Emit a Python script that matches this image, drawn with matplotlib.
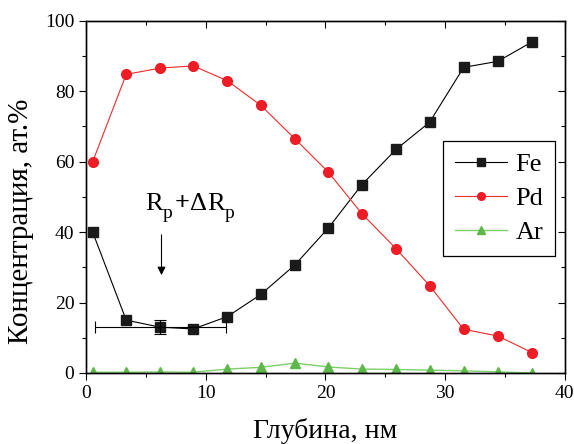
import matplotlib
matplotlib.use("Agg")
import matplotlib.pyplot as plt
from matplotlib.ticker import MultipleLocator
from matplotlib.transforms import offset_copy

plt.rcParams["font.family"] = ["Liberation Serif", "DejaVu Serif"]

# depth, nm
depth = [0.55, 3.35, 6.2, 8.95, 11.8, 14.6, 17.45, 20.25, 23.05, 25.9, 28.7, 31.55, 34.4, 37.25]

fe = [40.0, 15.0, 13.0, 12.5, 16.0, 22.3, 30.7, 41.2, 53.5, 63.5, 71.2, 86.8, 88.5, 94.0]
pd_ = [60.0, 84.8, 86.6, 87.2, 83.0, 76.0, 66.5, 57.0, 45.2, 35.3, 24.8, 12.4, 10.5, 5.8]
ar = [0.2, 0.2, 0.3, 0.2, 1.1, 1.6, 2.8, 1.7, 1.1, 1.0, 0.8, 0.6, 0.3, 0.0]

# Rp +/- dRp marker
rp_x, rp_y = 6.2, 13.0
rp_xerr, rp_yerr = 5.45, 2.0


def set_ticks(a, direction):
    a.set_xlim(0, 40)
    a.set_ylim(0, 100)
    a.xaxis.set_major_locator(MultipleLocator(10))
    a.xaxis.set_minor_locator(MultipleLocator(5))
    a.yaxis.set_major_locator(MultipleLocator(20))
    a.yaxis.set_minor_locator(MultipleLocator(10))
    a.tick_params(which="both", direction=direction, width=0.8)
    a.tick_params(which="major", length=5)
    a.tick_params(which="minor", length=3)


fig = plt.figure(figsize=(5.74, 4.44), dpi=100)
ax = fig.add_axes([0.150, 0.160, 0.834, 0.793])

ax.plot(depth, fe, color="black", lw=0.8, marker="s", ms=6.5,
        mfc="#1a1a1a", mec="#1a1a1a", label="Fe")
ax.plot(depth, pd_, color="#ee2a2a", lw=0.8, marker="o", ms=7,
        mfc="#ee1c24", mec="#ee1c24", label="Pd")
ax.plot(depth, ar, color="#7dcf6a", lw=1.0, marker="^", ms=7.5,
        mfc="#5cb848", mec="#5cb848", label="Ar")

# error bar at the projected range
ax.errorbar(rp_x, rp_y, xerr=rp_xerr, yerr=rp_yerr, fmt="none",
            ecolor="black", elinewidth=0.8, capsize=4.5, capthick=0.8)

ax.annotate("", xy=(6.3, 27), xytext=(6.3, 40),
            arrowprops=dict(arrowstyle="-|>", color="black", lw=0.8,
                            mutation_scale=12))

# "Rp + dRp" label: pieces laid out one after another
# (text, size, weight, baseline shift in points, gap before in points)
label_parts = [("R", 19, "normal", 0, 0),
               ("p", 14, "normal", -6, 0),
               ("+", 19, "bold", 0, 2),
               ("Δ", 19, "normal", 0, 0),
               ("R", 19, "normal", 0, 0),
               ("p", 14, "normal", -6, 0)]
renderer = fig.canvas.get_renderer()
dx = 0.0
for s, fs, fw, dy, gap in label_parts:
    dx += gap
    t = ax.text(4.9, 46.3, s, fontsize=fs, fontweight=fw, ha="left",
                va="baseline",
                transform=offset_copy(ax.transData, fig=fig, x=dx, y=dy,
                                      units="points"))
    dx += t.get_window_extent(renderer).width * 72 / fig.dpi

set_ticks(ax, "out")
ax.tick_params(labelsize=14)

# mirrored inward ticks on top and right
ax_top = ax.twiny()
ax_right = ax.twinx()
for a in (ax_top, ax_right):
    set_ticks(a, "in")
ax_top.tick_params(labeltop=False)
ax_right.tick_params(labelright=False)

for a in (ax, ax_top, ax_right):
    for s in a.spines.values():
        s.set_linewidth(0.9)

ax.set_xlabel("Глубина, нм", fontsize=20, labelpad=12)
ax.set_ylabel("Концентрация, ат.%", fontsize=21)
ax.yaxis.set_label_coords(-0.108, 0.43)

leg = ax_right.legend(*ax.get_legend_handles_labels(),
                      loc="upper left", bbox_to_anchor=(0.745, 0.66),
                      fontsize=19, frameon=True, fancybox=False,
                      edgecolor="black", framealpha=1,
                      handlelength=2.0, handletextpad=0.3, borderpad=0.45,
                      labelspacing=0.4, borderaxespad=0)
leg.get_frame().set_linewidth(0.9)
for h in leg.legend_handles:
    h.set_markersize(5.5)

fig.savefig("out.png", dpi=100)
plt.close(fig)
